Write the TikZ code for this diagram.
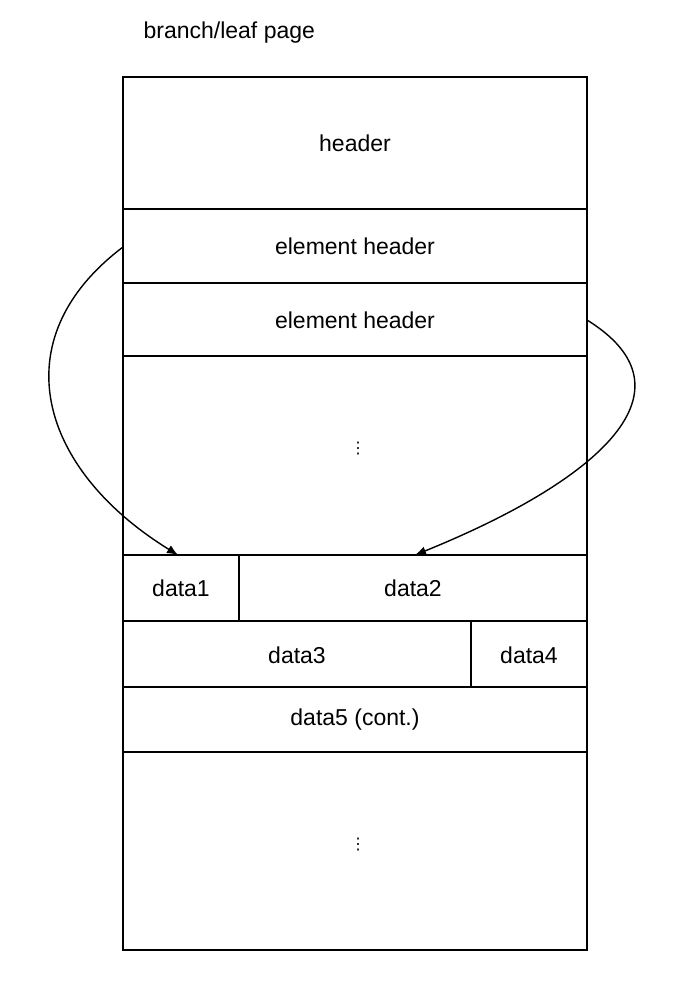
\documentclass[tikz,border=0pt]{standalone}
\usepackage{fontspec}
\setmainfont{Liberation Sans}
\newfontfamily\dejavu{DejaVu Sans}
\usetikzlibrary{arrows.meta}
\begin{document}
\begin{tikzpicture}[x=1pt,y=-1pt,line width=1.2pt,
  lbl/.style={font=\fontsize{23}{27}\selectfont},
  arr/.style={-{Latex[length=11pt,width=9pt]},line width=1.4pt}]
\useasboundingbox (0,0) rectangle (680,990);
\node[lbl,anchor=west,inner sep=0] (title) at (143,33) {branch/leaf page};
\draw (123,77) rectangle (587,950);
\node[lbl] (hdr) at (355,143) {header};
\draw (123,209) -- (587,209);
\node[lbl] (e1) at (355,246) {element header};
\draw (123,283) -- (587,283);
\node[lbl] (e2) at (355,320) {element header};
\draw (123,356) -- (587,356);
\node[lbl] (dotsa) at (358,449) {\dejavu\fontsize{16}{18}\selectfont ⋮};
\draw (123,555) -- (587,555);
\draw (239,555) -- (239,621);
\node[lbl] (d1) at (181,588) {data1};
\node[lbl] (d2) at (413,588) {data2};
\draw (123,621) -- (587,621);
\draw (471,621) -- (471,687);
\node[lbl] (d3) at (297,655) {data3};
\node[lbl] (d4) at (529,655) {data4};
\draw (123,687) -- (587,687);
\node[lbl] (d5) at (355,720) {data5 (cont.)};
\draw (123,752) -- (587,752);
\node[lbl] (dotsb) at (358,845) {\dejavu\fontsize{16}{18}\selectfont ⋮};
\coordinate (s1) at (123,247);
\coordinate (t1) at (178,555);
\coordinate (s2) at (587,320);
\coordinate (t2) at (415,555);
\draw[arr] (s1) .. controls (0,340) and (40,470) .. (t1);
\draw[arr] (s2) .. controls (700,390) and (600,480) .. (t2);
\end{tikzpicture}
\end{document}
